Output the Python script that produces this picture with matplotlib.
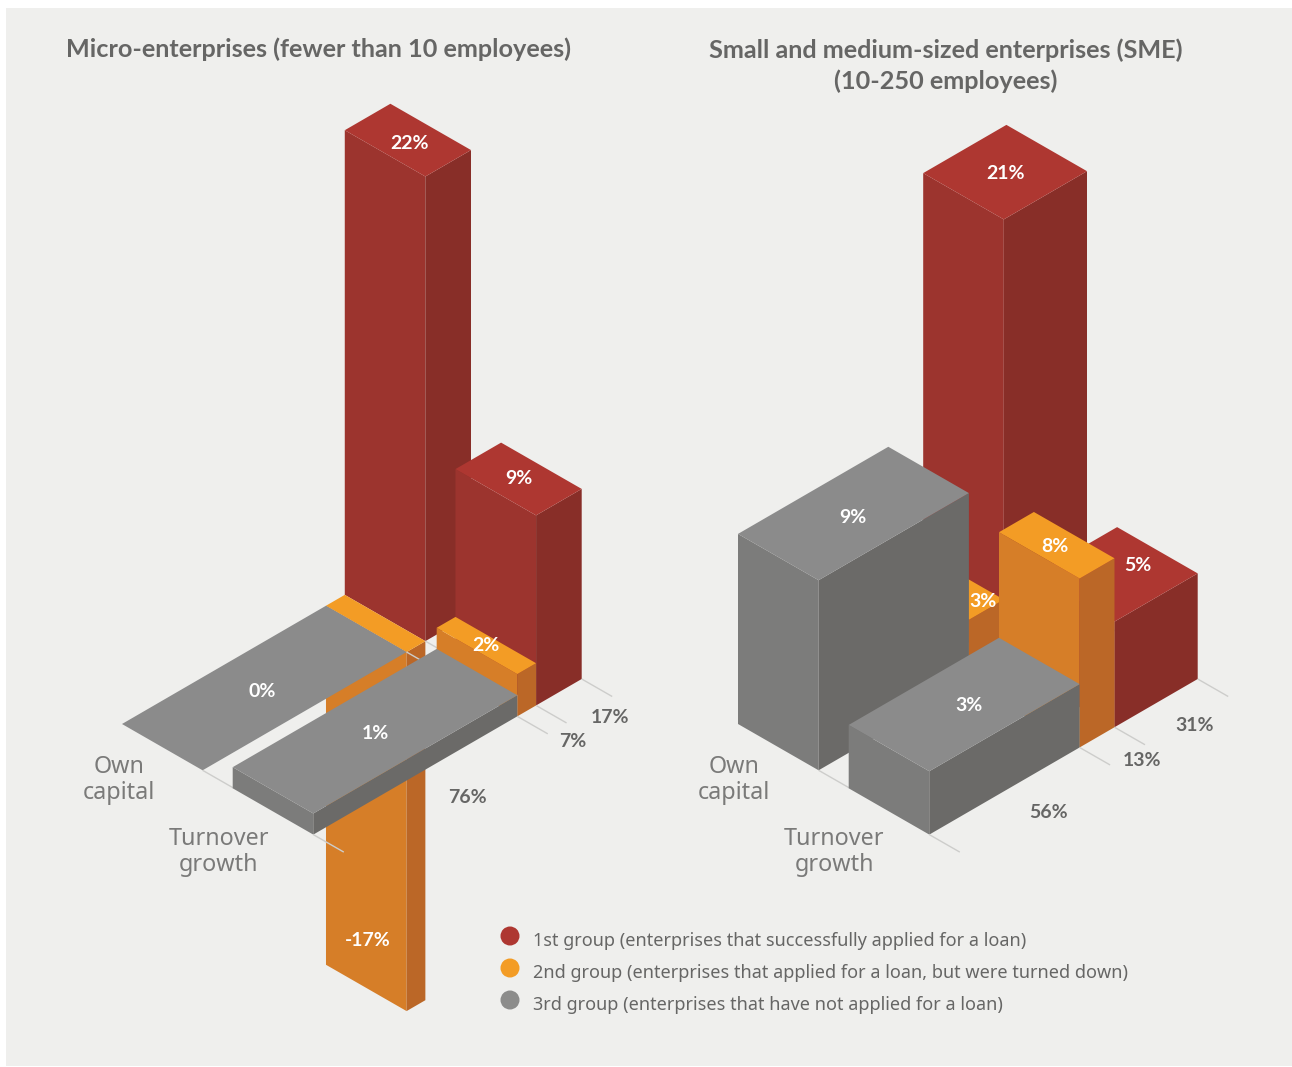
import matplotlib
matplotlib.use('Agg')
import matplotlib.pyplot as plt
from matplotlib.patches import Circle, Polygon, Rectangle

# company shares along the row: 1st, 2nd, 3rd group
micro_shares = [17, 7, 76]
sme_shares = [31, 13, 56]

# growth values per row, same group order
micro_own_capital = [22, -17, 0]
micro_turnover = [9, 2, 1]
sme_own_capital = [21, 3, 9]
sme_turnover = [5, 8, 3]

row_names = ['Own\ncapital', 'Turnover\ngrowth']
group_names = ['1st group (enterprises that successfully applied for a loan)',
               '2nd group (enterprises that applied for a loan, but were turned down)',
               '3rd group (enterprises that have not applied for a loan)']

# face colours per group: top, left, right
RED = ('#AE3731', '#9C342E', '#882E28')
ORANGE = ('#F39C25', '#D67E28', '#BB6727')
GRAY = ('#8B8B8B', '#7C7C7B', '#6B6A68')
GROUPS = [RED, ORANGE, GRAY]

# isometric axes, in pixels per unit
SHARE_STEP = (2.684, -1.556)
DEPTH = (80.6, 46.3)
ROW_STEP = (110.7, 64.3)
Z_STEP = 21.12
TICK = (30.5, 17.5)

TEXT_GRAY = '#666665'
TICK_GRAY = '#CDCDCB'


class IsoChart:
    def __init__(self, ax, origin, shares):
        self.ax = ax
        self.origin = origin
        self.shares = shares
        self.order = 2

    def next_order(self):
        # painter's algorithm: everything stacks in drawing order
        self.order += 0.01
        return self.order

    def project(self, row, share, depth, z):
        x = self.origin[0] + row * ROW_STEP[0] + share * SHARE_STEP[0] + depth * DEPTH[0]
        y = self.origin[1] + row * ROW_STEP[1] + share * SHARE_STEP[1] + depth * DEPTH[1] - z * Z_STEP
        return x, y

    def add_face(self, points, color):
        self.ax.add_patch(Polygon(points, closed=True, facecolor=color, edgecolor='none',
                                  linewidth=0, zorder=self.next_order()))

    def draw_bar(self, row, start, share, value, colors):
        end = start + share
        top = max(value, 0)
        low = min(value, 0)
        p = self.project
        self.add_face([p(row, start, 0, low), p(row, start, 1, low),
                       p(row, start, 1, top), p(row, start, 0, top)], colors[1])
        self.add_face([p(row, start, 1, low), p(row, end, 1, low),
                       p(row, end, 1, top), p(row, start, 1, top)], colors[2])
        self.add_face([p(row, start, 0, top), p(row, end, 0, top),
                       p(row, end, 1, top), p(row, start, 1, top)], colors[0])

    def draw_ticks(self, row):
        # short guide lines leaving the front edge at each share boundary
        edge = 0
        for share in [0] + self.shares:
            edge += share
            x, y = self.project(row, 100 - edge, 1, 0)
            self.ax.plot([x, x + TICK[0]], [y, y + TICK[1]], color=TICK_GRAY, lw=1,
                         solid_capstyle='butt', zorder=self.next_order())

    def draw_row(self, row, values):
        # the 1st group sits furthest back, so it goes down first
        for i, value in enumerate(values):
            start = 100 - sum(self.shares[:i + 1])
            self.draw_bar(row, start, self.shares[i], value, GROUPS[i])
        self.draw_ticks(row)

    def label_top(self, row, index, value, nudge=(0, 0)):
        start = 100 - sum(self.shares[:index + 1])
        x, y = self.project(row, start + self.shares[index] / 2, 0.5, max(value, 0))
        self.value_text(x + nudge[0], y + nudge[1], value)

    def value_text(self, x, y, value):
        self.ax.text(x, y + 1.5, f'{value}%', color='white', fontsize=14, fontweight='bold', family='Lato',
                     ha='center', va='center', zorder=5)


def draw_share_label(ax, x, y, share):
    ax.text(x, y + 1.2, f'{share}%', color=TEXT_GRAY, fontsize=14, fontweight='bold', family='Lato',
            ha='center', va='center', zorder=5)


def draw_row_names(ax, positions):
    for (x, y), name in zip(positions, row_names):
        ax.text(x, y, name, color='#7A7A79', fontsize=16.8, family='Noto Sans',
                ha='center', va='center', linespacing=1.12, zorder=5)


fig = plt.figure(figsize=(12.92, 10.67), dpi=100, facecolor='white')
ax = fig.add_axes([0, 0, 1, 1])
ax.set_xlim(0, 1292)
ax.set_ylim(1067, 0)
ax.axis('off')

ax.add_patch(Rectangle((6, 8), 1285.5, 1058, facecolor='#EFEFED', edgecolor='none', zorder=1))

# micro-enterprises
micro = IsoChart(ax, (122, 724), micro_shares)
micro.draw_row(0, micro_own_capital)
micro.draw_row(1, micro_turnover)
micro.label_top(0, 0, micro_own_capital[0], (1.5, 2))
micro.label_top(0, 2, micro_own_capital[2], (-2, 2))
micro.value_text(367.5, 939, micro_own_capital[1])
micro.label_top(1, 0, micro_turnover[0], (0, -2))
micro.label_top(1, 1, micro_turnover[1], (-0.5, -2))
micro.label_top(1, 2, micro_turnover[2], (0, 1))
for (x, y), share in zip([(610, 716), (573, 740), (467, 796)], micro_shares):
    draw_share_label(ax, x, y, share)
draw_row_names(ax, [(119, 780), (219, 852)])

# small and medium-sized enterprises
sme = IsoChart(ax, (738, 724), sme_shares)
sme.draw_row(0, sme_own_capital)
sme.draw_row(1, sme_turnover)
sme.label_top(0, 0, sme_own_capital[0], (0, 0))
sme.label_top(0, 1, sme_own_capital[1], (37, 13))
sme.label_top(0, 2, sme_own_capital[2], (-1, 2))
sme.label_top(1, 0, sme_turnover[0], (22, -10))
sme.label_top(1, 1, sme_turnover[1], (-2, 0))
sme.label_top(1, 2, sme_turnover[2], (5, -1))
for (x, y), share in zip([(1195, 724), (1142, 759), (1049, 811)], sme_shares):
    draw_share_label(ax, x, y, share)
draw_row_names(ax, [(734, 780), (834, 852)])

ax.text(319, 49, 'Micro-enterprises (fewer than 10 employees)', color=TEXT_GRAY, fontsize=18.2,
        fontweight='bold', family='Lato', ha='center', va='center', zorder=5)
ax.text(946, 65.5, 'Small and medium-sized enterprises (SME)\n(10-250 employees)', color=TEXT_GRAY,
        fontsize=18.2, fontweight='bold', family='Lato', ha='center', va='center', linespacing=1.36, zorder=5)

# legend
for y, colors, name in zip([936, 968, 1000], [RED[0], ORANGE[0], '#8C8C8B'], group_names):
    ax.add_patch(Circle((510, y), 9.5, facecolor=colors, edgecolor='none', zorder=3))
    ax.text(533, y + 5, name, color=TEXT_GRAY, fontsize=13, family='Noto Sans', ha='left', va='center', zorder=5)

fig.savefig('out.png', dpi=100, facecolor='white')
